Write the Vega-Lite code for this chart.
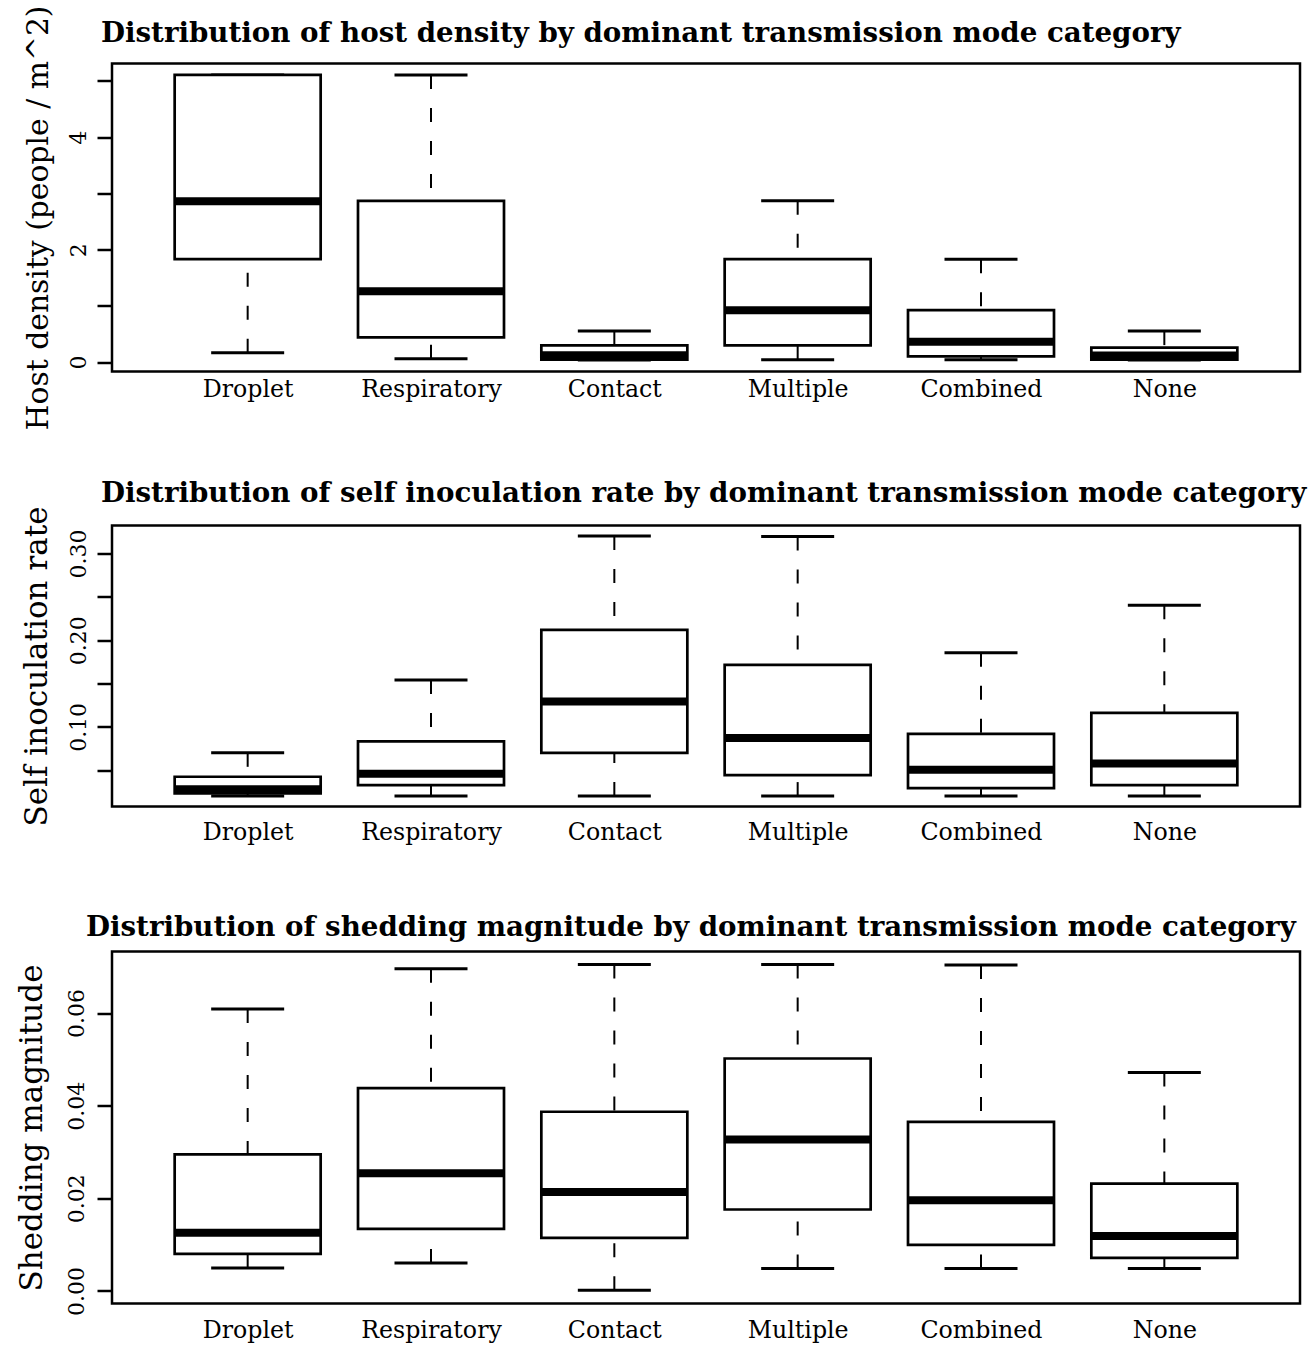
{
  "$schema": "https://vega.github.io/schema/vega-lite/v6.json",
  "background": "white",
  "padding": {"left": 14, "top": 3.5, "right": 5, "bottom": 2},
  "spacing": 67,
  "config": {
    "font": "DejaVu Serif",
    "view": {"stroke": "black", "strokeWidth": 2.5},
    "axis": {
      "grid": false,
      "labelColor": "black",
      "titleColor": "black",
      "labelFont": "DejaVu Serif",
      "titleFont": "DejaVu Serif",
      "titleFontWeight": "normal"
    },
    "axisY": {
      "domain": false,
      "tickColor": "black",
      "tickSize": 15,
      "tickWidth": 2.5,
      "labelAngle": -90,
      "labelFontSize": 22,
      "labelPadding": 7,
      "titleFontSize": 31,
      "titlePadding": 14
    },
    "axisX": {
      "domain": false,
      "ticks": false,
      "labelFontSize": 23.7,
      "labelAngle": 0,
      "title": null
    },
    "title": {"font": "DejaVu Serif", "fontWeight": "bold", "fontSize": 27.7, "color": "black", "anchor": "start", "frame": "group"}
  },
  "datasets": {
    "host": [
      {"cat": "Droplet", "low": 0.167, "q1": 1.831, "median": 2.861, "q3": 5.107, "high": 5.107},
      {"cat": "Respiratory", "low": 0.06, "q1": 0.439, "median": 1.262, "q3": 2.868, "high": 5.107},
      {"cat": "Contact", "low": 0.036, "q1": 0.042, "median": 0.12, "q3": 0.297, "high": 0.551},
      {"cat": "Multiple", "low": 0.042, "q1": 0.297, "median": 0.924, "q3": 1.831, "high": 2.868},
      {"cat": "Combined", "low": 0.042, "q1": 0.101, "median": 0.362, "q3": 0.924, "high": 1.831},
      {"cat": "None", "low": 0.036, "q1": 0.042, "median": 0.119, "q3": 0.256, "high": 0.551}
    ],
    "self": [
      {"cat": "Droplet", "low": 0.0202, "q1": 0.0233, "median": 0.028, "q3": 0.0425, "high": 0.0701},
      {"cat": "Respiratory", "low": 0.0202, "q1": 0.0329, "median": 0.046, "q3": 0.0834, "high": 0.154},
      {"cat": "Contact", "low": 0.0202, "q1": 0.0701, "median": 0.1294, "q3": 0.2118, "high": 0.3202},
      {"cat": "Multiple", "low": 0.0202, "q1": 0.0444, "median": 0.0873, "q3": 0.1716, "high": 0.3195},
      {"cat": "Combined", "low": 0.0202, "q1": 0.0294, "median": 0.0506, "q3": 0.092, "high": 0.1854},
      {"cat": "None", "low": 0.0202, "q1": 0.0329, "median": 0.0578, "q3": 0.1161, "high": 0.2402}
    ],
    "shed": [
      {"cat": "Droplet", "low": 0.00498, "q1": 0.008, "median": 0.01255, "q3": 0.0295, "high": 0.0609},
      {"cat": "Respiratory", "low": 0.00606, "q1": 0.0134, "median": 0.0254, "q3": 0.0438, "high": 0.0696},
      {"cat": "Contact", "low": 0.00014, "q1": 0.01147, "median": 0.02135, "q3": 0.0387, "high": 0.0705},
      {"cat": "Multiple", "low": 0.00483, "q1": 0.0176, "median": 0.0327, "q3": 0.0502, "high": 0.0705},
      {"cat": "Combined", "low": 0.00483, "q1": 0.00995, "median": 0.0196, "q3": 0.0365, "high": 0.0704},
      {"cat": "None", "low": 0.00483, "q1": 0.00714, "median": 0.0119, "q3": 0.0232, "high": 0.0472}
    ]
  },
  "vconcat": [
    {
      "spacing": 46,
      "vconcat": [
        {
          "width": 1188,
          "height": 308,
          "title": {"text": "Distribution of host density by dominant transmission mode category", "dx": -11, "offset": 0, "dy": 42.5},
          "data": {"name": "host"},
          "encoding": {
            "x": {"field": "cat", "type": "nominal", "sort": null, "scale": {"type": "point", "padding": 0.74}, "axis": {"labelPadding": 6}}
          },
          "layer": [
            {"mark": {"type": "rule", "color": "black", "strokeWidth": 2, "strokeDash": [14, 19]},
             "encoding": {"y": {"field": "high", "type": "quantitative", "scale": {"domain": [-0.167, 5.31], "nice": false, "zero": false},
               "axis": {"title": "Host density (people / m^2)", "titleFontSize": 29.8, "values": [0, 1, 2, 3, 4, 5], "format": "d", "labelExpr": "datum.value % 2 == 0 ? datum.label : ''"}},
               "y2": {"field": "q3"}}},
            {"mark": {"type": "rule", "color": "black", "strokeWidth": 2, "strokeDash": [14, 19]},
             "encoding": {"y": {"field": "low", "type": "quantitative"}, "y2": {"field": "q1"}}},
            {"mark": {"type": "tick", "color": "black", "opacity": 1, "size": 73, "thickness": 3, "orient": "horizontal"},
             "encoding": {"y": {"field": "high", "type": "quantitative"}}},
            {"mark": {"type": "tick", "color": "black", "opacity": 1, "size": 73, "thickness": 3, "orient": "horizontal"},
             "encoding": {"y": {"field": "low", "type": "quantitative"}}},
            {"mark": {"type": "bar", "width": 146, "fill": "white", "stroke": "black", "strokeWidth": 2.7, "opacity": 1},
             "encoding": {"y": {"field": "q1", "type": "quantitative"}, "y2": {"field": "q3"}}},
            {"mark": {"type": "tick", "color": "black", "opacity": 1, "size": 146, "thickness": 8, "orient": "horizontal"},
             "encoding": {"y": {"field": "median", "type": "quantitative"}}}
          ]
        },
        {
          "width": 1188,
          "height": 281,
          "title": {"text": "Distribution of self inoculation rate by dominant transmission mode category", "dx": -11, "offset": 0, "dy": 1.3},
          "data": {"name": "self"},
          "encoding": {
            "x": {"field": "cat", "type": "nominal", "sort": null, "scale": {"type": "point", "padding": 0.74}, "axis": {"labelPadding": 14}}
          },
          "layer": [
            {"mark": {"type": "rule", "color": "black", "strokeWidth": 2, "strokeDash": [14, 19]},
             "encoding": {"y": {"field": "high", "type": "quantitative", "scale": {"domain": [0.0082, 0.3322], "nice": false, "zero": false},
               "axis": {"title": "Self inoculation rate", "values": [0.05, 0.1, 0.15, 0.2, 0.25, 0.3], "format": ".2f", "labelExpr": "round(datum.value * 100) % 10 == 0 ? datum.label : ''"}},
               "y2": {"field": "q3"}}},
            {"mark": {"type": "rule", "color": "black", "strokeWidth": 2, "strokeDash": [14, 19]},
             "encoding": {"y": {"field": "low", "type": "quantitative"}, "y2": {"field": "q1"}}},
            {"mark": {"type": "tick", "color": "black", "opacity": 1, "size": 73, "thickness": 3, "orient": "horizontal"},
             "encoding": {"y": {"field": "high", "type": "quantitative"}}},
            {"mark": {"type": "tick", "color": "black", "opacity": 1, "size": 73, "thickness": 3, "orient": "horizontal"},
             "encoding": {"y": {"field": "low", "type": "quantitative"}}},
            {"mark": {"type": "bar", "width": 146, "fill": "white", "stroke": "black", "strokeWidth": 2.7, "opacity": 1},
             "encoding": {"y": {"field": "q1", "type": "quantitative"}, "y2": {"field": "q3"}}},
            {"mark": {"type": "tick", "color": "black", "opacity": 1, "size": 146, "thickness": 8, "orient": "horizontal"},
             "encoding": {"y": {"field": "median", "type": "quantitative"}}}
          ]
        }
      ]
    },
    {
      "width": 1188,
      "height": 352,
      "title": {"text": "Distribution of shedding magnitude by dominant transmission mode category", "dx": -26, "offset": 9.6},
      "data": {"name": "shed"},
      "encoding": {
        "x": {"field": "cat", "type": "nominal", "sort": null, "scale": {"type": "point", "padding": 0.74}, "axis": {"labelPadding": 15}}
      },
      "layer": [
        {"mark": {"type": "rule", "color": "black", "strokeWidth": 2, "strokeDash": [14, 19]},
         "encoding": {"y": {"field": "high", "type": "quantitative", "scale": {"domain": [-0.0027, 0.0733], "nice": false, "zero": false},
           "axis": {"title": "Shedding magnitude", "labelPadding": 9, "titlePadding": 17, "values": [0, 0.02, 0.04, 0.06], "format": ".2f"}},
           "y2": {"field": "q3"}}},
        {"mark": {"type": "rule", "color": "black", "strokeWidth": 2, "strokeDash": [14, 19]},
         "encoding": {"y": {"field": "low", "type": "quantitative"}, "y2": {"field": "q1"}}},
        {"mark": {"type": "tick", "color": "black", "opacity": 1, "size": 73, "thickness": 3, "orient": "horizontal"},
         "encoding": {"y": {"field": "high", "type": "quantitative"}}},
        {"mark": {"type": "tick", "color": "black", "opacity": 1, "size": 73, "thickness": 3, "orient": "horizontal"},
         "encoding": {"y": {"field": "low", "type": "quantitative"}}},
        {"mark": {"type": "bar", "width": 146, "fill": "white", "stroke": "black", "strokeWidth": 2.7, "opacity": 1},
         "encoding": {"y": {"field": "q1", "type": "quantitative"}, "y2": {"field": "q3"}}},
        {"mark": {"type": "tick", "color": "black", "opacity": 1, "size": 146, "thickness": 8, "orient": "horizontal"},
         "encoding": {"y": {"field": "median", "type": "quantitative"}}}
      ]
    }
  ]
}
